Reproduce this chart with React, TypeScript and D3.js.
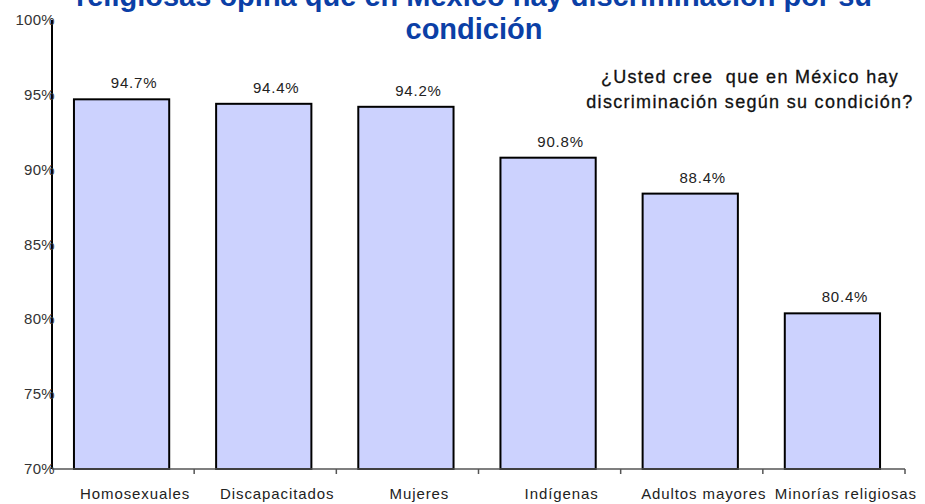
import React, { useRef, useEffect } from 'react';
import * as d3 from 'd3';

const categories = [
  'Homosexuales',
  'Discapacitados',
  'Mujeres',
  'Indígenas',
  'Adultos mayores',
  'Minorías religiosas',
];
const values = [94.7, 94.4, 94.2, 90.8, 88.4, 80.4];
const yTicks = [70, 75, 80, 85, 90, 95, 100];
const titleLines = [
  'religiosas opina que en México hay discriminación por su',
  'condición',
];
const questionLines = [
  '¿Usted cree  que en México hay',
  'discriminación según su condición?',
];

const FONT = '"Liberation Sans", Arial, sans-serif';

export default function App() {
  const svgRef = useRef<SVGSVGElement>(null);

  useEffect(() => {
    const el = svgRef.current;
    if (!el) return;
    const svg = d3.select(el);
    svg.selectAll('*').remove();

    const left = 52;
    const right = 905;
    const top = 20;
    const bottom = 469;

    const x = d3.scaleBand<string>().domain(categories).range([left, right]).padding(0);
    const y = d3.scaleLinear().domain([70, 100]).range([bottom, top]);
    const barW = x.bandwidth() * 0.67;

    // title (top line is cut off by the frame)
    svg
      .selectAll('.title')
      .data(titleLines)
      .enter()
      .append('text')
      .attr('x', 474)
      .attr('y', (_, i) => 6 + i * 33)
      .attr('text-anchor', 'middle')
      .attr('fill', '#0B3FA6')
      .attr('font-size', '29px')
      .attr('font-weight', 'bold')
      .attr('font-family', FONT)
      .text((d) => d);

    // bars
    svg
      .selectAll('.bar')
      .data(values)
      .enter()
      .append('rect')
      .attr('x', (_, i) => x(categories[i])! + x.bandwidth() / 2 - barW / 2 - 1.5)
      .attr('y', (d) => y(d))
      .attr('width', barW)
      .attr('height', (d) => y(70) - y(d))
      .attr('fill', '#CCD2FE')
      .attr('stroke', '#000')
      .attr('stroke-width', 2);

    // value labels
    svg
      .selectAll('.val')
      .data(values)
      .enter()
      .append('text')
      .attr('x', (_, i) => x(categories[i])! + x.bandwidth() / 2 + 11)
      .attr('y', (d) => y(d) - 11)
      .attr('text-anchor', 'middle')
      .attr('fill', '#222')
      .attr('font-size', '15px')
      .attr('letter-spacing', '0.8px')
      .attr('font-family', FONT)
      .text((d) => `${d.toFixed(1)}%`);

    // y axis
    svg
      .append('line')
      .attr('x1', left)
      .attr('x2', left)
      .attr('y1', top)
      .attr('y2', bottom)
      .attr('stroke', '#000')
      .attr('stroke-width', 2);

    svg
      .selectAll('.ytick')
      .data(yTicks)
      .enter()
      .append('text')
      .attr('x', left + 3)
      .attr('y', (d) => y(d) + 5)
      .attr('text-anchor', 'end')
      .attr('fill', '#333')
      .attr('font-size', '15px')
      .attr('letter-spacing', '0.3px')
      .attr('font-family', FONT)
      .text((d) => `${d}%`);

    // x axis
    svg
      .append('line')
      .attr('x1', left)
      .attr('x2', right)
      .attr('y1', bottom)
      .attr('y2', bottom)
      .attr('stroke', '#555')
      .attr('stroke-width', 1.5);

    svg
      .selectAll('.xtick')
      .data(categories)
      .enter()
      .append('line')
      .attr('x1', (d) => x(d)! + x.bandwidth())
      .attr('x2', (d) => x(d)! + x.bandwidth())
      .attr('y1', bottom)
      .attr('y2', bottom + 5)
      .attr('stroke', '#555')
      .attr('stroke-width', 1.5);

    svg
      .selectAll('.xlabel')
      .data(categories)
      .enter()
      .append('text')
      .attr('x', (d) => x(d)! + x.bandwidth() / 2 + 12)
      .attr('y', 499)
      .attr('text-anchor', 'middle')
      .attr('fill', '#222')
      .attr('font-size', '15px')
      .attr('letter-spacing', '0.9px')
      .attr('font-family', FONT)
      .text((d) => d);

    // question text
    svg
      .selectAll('.question')
      .data(questionLines)
      .enter()
      .append('text')
      .attr('x', 750)
      .attr('y', (_, i) => 83 + i * 25)
      .attr('text-anchor', 'middle')
      .attr('fill', '#111')
      .attr('stroke', '#111')
      .attr('stroke-width', 0.3)
      .attr('font-size', '18px')
      .attr('font-family', FONT)
      .attr('letter-spacing', '1.3px')
      .style('white-space', 'pre')
      .text((d) => d);
  }, []);

  return (
    <svg
      ref={svgRef}
      width={925}
      height={504}
      style={{ position: 'absolute', left: 0, top: 0, background: '#fff' }}
    />
  );
}
